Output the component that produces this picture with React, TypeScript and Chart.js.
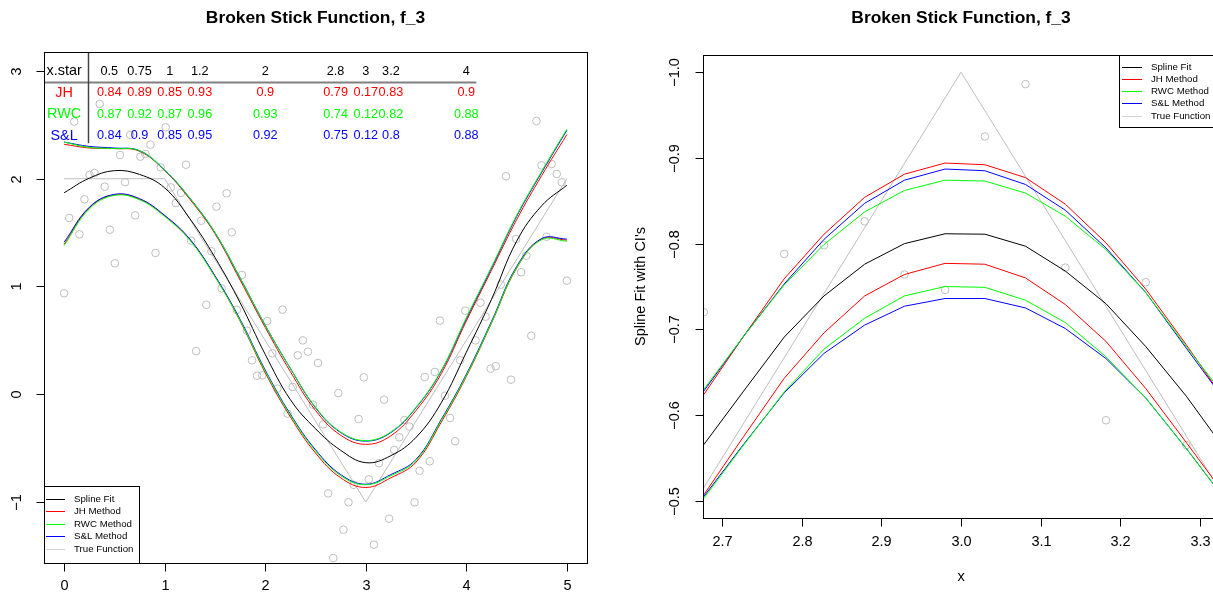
import React, { useEffect, useRef } from "react";
import { Chart, registerables } from "chart.js";

Chart.register(...registerables);

const FONT = '"Liberation Sans", Arial, Helvetica, sans-serif';
const GRAY = "#BEBEBE";
const RED = "#FF0000";
const GREEN = "#00FF00";
const BLUE = "#0000FF";
const BLACK = "#000000";

// ---------------- Left panel data ----------------
const obsX = [
  0, 0.051, 0.101, 0.152, 0.202, 0.253, 0.303, 0.354, 0.404, 0.455,
  0.505, 0.556, 0.606, 0.657, 0.707, 0.758, 0.808, 0.859, 0.909, 0.96,
  1.01, 1.061, 1.111, 1.162, 1.212, 1.263, 1.313, 1.364, 1.414, 1.465,
  1.515, 1.566, 1.616, 1.667, 1.717, 1.768, 1.818, 1.869, 1.919, 1.97,
  2.02, 2.071, 2.121, 2.172, 2.222, 2.273, 2.323, 2.374, 2.424, 2.475,
  2.525, 2.576, 2.626, 2.677, 2.727, 2.778, 2.828, 2.879, 2.929, 2.98,
  3.03, 3.081, 3.131, 3.182, 3.232, 3.283, 3.333, 3.384, 3.434, 3.485,
  3.535, 3.586, 3.636, 3.687, 3.737, 3.788, 3.838, 3.889, 3.939, 3.99,
  4.091, 4.141, 4.192, 4.242, 4.293, 4.343, 4.394, 4.444, 4.495, 4.545,
  4.596, 4.646, 4.697, 4.747, 4.798, 4.848, 4.899, 4.949, 5.0,
];
const obsY = [
  0.937, 1.636, 2.53, 1.484, 1.809, 2.035, 2.053, 2.694, 1.926, 1.527,
  1.215, 2.22, 1.967, 2.406, 1.66, 2.205, 2.23, 2.316, 1.311, 2.106,
  2.477, 1.92, 1.775, 1.868, 2.13, 1.425, 0.4, 1.61, 0.83, 1.327,
  1.741, 0.983, 1.865, 1.503, 0.782, 1.107, 0.59, 0.315, 0.172, 0.175,
  0.68, 0.38, 0.052, 0.785, -0.18, 0.067, 0.361, 0.5, 0.395, -0.097,
  0.29, -0.28, -0.92, -1.52, 0.01, -1.257, -1.003, -0.84, -0.23, 0.157,
  -0.79, -1.396, -0.64, -0.05, -1.155, -0.517, -0.4, -0.24, -0.3, -1.003,
  -0.71, 0.16, -0.622, 0.207, 0.683, -0.013, -0.22, -0.436, 0.315, 0.775,
  0.5, 0.85, 0.72, 0.237, 0.26, 1.017, 2.023, 0.135, 1.441, 1.132,
  1.286, 0.543, 2.536, 2.125, 1.462, 2.137, 2.044, 1.967, 1.054,
];

const fitX = [0, 0.25, 0.5, 0.75, 1, 1.25, 1.5, 1.75, 2, 2.25, 2.5, 2.75, 3, 3.25, 3.5, 3.75, 4, 4.25, 4.5, 4.75, 5];
const splineFit = [1.87, 2.005, 2.075, 2.04, 1.915, 1.63, 1.27, 0.85, 0.37, -0.05, -0.32, -0.52, -0.635, -0.57, -0.4, -0.08, 0.39, 0.88, 1.42, 1.75, 1.94];
const jhUpper = [2.32, 2.285, 2.28, 2.255, 2.075, 1.81, 1.49, 1.06, 0.62, 0.21, -0.15, -0.38, -0.465, -0.385, -0.15, 0.19, 0.68, 1.15, 1.62, 2.03, 2.41];
const jhLower = [1.39, 1.73, 1.85, 1.81, 1.655, 1.435, 1.095, 0.68, 0.2, -0.21, -0.545, -0.775, -0.865, -0.775, -0.63, -0.26, 0.165, 0.66, 1.17, 1.44, 1.43];
const rwcUpper = [2.34, 2.29, 2.28, 2.26, 2.08, 1.82, 1.5, 1.08, 0.64, 0.24, -0.12, -0.35, -0.43, -0.35, -0.12, 0.22, 0.71, 1.18, 1.66, 2.07, 2.46];
const rwcLower = [1.38, 1.72, 1.845, 1.805, 1.65, 1.43, 1.09, 0.685, 0.215, -0.195, -0.525, -0.755, -0.84, -0.755, -0.615, -0.245, 0.175, 0.665, 1.175, 1.435, 1.42];
const slUpper = [2.34, 2.3, 2.285, 2.26, 2.08, 1.82, 1.5, 1.08, 0.64, 0.24, -0.125, -0.355, -0.435, -0.355, -0.125, 0.215, 0.7, 1.17, 1.65, 2.06, 2.45];
const slLower = [1.41, 1.735, 1.855, 1.815, 1.66, 1.44, 1.1, 0.695, 0.225, -0.185, -0.515, -0.745, -0.835, -0.745, -0.605, -0.235, 0.185, 0.675, 1.185, 1.445, 1.44];

const trueX = [0, 1, 3, 5];
const trueY = [2, 2, -1, 2];

const leftXTicks = [0, 1, 2, 3, 4, 5];
const leftYTicks = [-1, 0, 1, 2, 3];

// coverage table
const xStarLabels = ["0.5", "0.75", "1", "1.2", "2", "2.8", "3", "3.2", "4"];
const tableColX = [0.45, 0.75, 1.05, 1.35, 2.0, 2.7, 3.0, 3.25, 4.0];
const jhCoverage = ["0.84", "0.89", "0.85", "0.93", "0.9", "0.79", "0.17", "0.83", "0.9"];
const rwcCoverage = ["0.87", "0.92", "0.87", "0.96", "0.93", "0.74", "0.12", "0.82", "0.88"];
const slCoverage = ["0.84", "0.9", "0.85", "0.95", "0.92", "0.75", "0.12", "0.8", "0.88"];
const tableRowY = [2.997, 2.796, 2.6, 2.4];

const legendLabels = ["Spline Fit", "JH Method", "RWC Method", "S&L Method", "True Function"];
const legendColors = [BLACK, RED, GREEN, BLUE, "#D3D3D3"];

// ---------------- Right panel data ----------------
const rightX = [2.677, 2.727, 2.778, 2.828, 2.879, 2.929, 2.98, 3.03, 3.081, 3.131, 3.182, 3.232, 3.283, 3.333];
const rSpline = [-0.5655, -0.628, -0.691, -0.739, -0.776, -0.8, -0.8115, -0.811, -0.797, -0.768, -0.73, -0.68, -0.622, -0.558];
const rJhTop = [-0.624, -0.692, -0.759, -0.811, -0.854, -0.881, -0.894, -0.892, -0.877, -0.846, -0.801, -0.747, -0.682, -0.615];
const rSlTop = [-0.628, -0.692, -0.753, -0.805, -0.847, -0.874, -0.887, -0.885, -0.869, -0.839, -0.795, -0.743, -0.678, -0.615];
const rRwcTop = [-0.63, -0.692, -0.752, -0.799, -0.837, -0.862, -0.874, -0.873, -0.859, -0.832, -0.793, -0.743, -0.68, -0.62];
const rJhBot = [-0.507, -0.575, -0.643, -0.696, -0.739, -0.764, -0.777, -0.776, -0.76, -0.729, -0.686, -0.631, -0.568, -0.505];
const rRwcBot = [-0.503, -0.565, -0.627, -0.677, -0.713, -0.739, -0.75, -0.749, -0.734, -0.708, -0.668, -0.62, -0.561, -0.5];
const rSlBot = [-0.505, -0.566, -0.626, -0.672, -0.705, -0.727, -0.736, -0.736, -0.725, -0.701, -0.666, -0.62, -0.561, -0.5];

const rObsX = [2.677, 2.778, 2.828, 2.879, 2.929, 2.98, 3.03, 3.081, 3.131, 3.182, 3.232, 3.283];
const rObsY = [-0.72, -0.788, -0.798, -0.826, -0.764, -0.746, -0.925, -0.986, -0.772, -0.594, -0.755, -0.565];

const rightXTicks = [2.7, 2.8, 2.9, 3.0, 3.1, 3.2, 3.3];
const rightYTicks = [-1.0, -0.9, -0.8, -0.7, -0.6, -0.5];

const TITLE = "Broken Stick Function, f_3";

// ---------------- helpers ----------------
const pts = (xs: number[], ys: number[]) => xs.map((v, i) => ({ x: v, y: ys[i] }));

const lineDs = (xs: number[], ys: number[], color: string, tension: number) => ({
  data: pts(xs, ys),
  showLine: true,
  borderColor: color,
  borderWidth: 1,
  pointRadius: 0,
  pointHoverRadius: 0,
  tension,
  fill: false,
});

const pointDs = (xs: number[], ys: number[]) => ({
  data: pts(xs, ys),
  showLine: false,
  pointRadius: 3.8,
  pointHoverRadius: 3.8,
  pointBorderColor: GRAY,
  pointBackgroundColor: "rgba(0,0,0,0)",
  pointBorderWidth: 1,
});

const fmtMinus = (s: string) => s.replace("-", "\u2212");

function drawBox(ctx: CanvasRenderingContext2D, l: number, t: number, r: number, b: number) {
  ctx.strokeStyle = BLACK;
  ctx.lineWidth = 1;
  ctx.strokeRect(Math.round(l) + 0.5, Math.round(t) + 0.5, Math.round(r) - Math.round(l), Math.round(b) - Math.round(t));
}

function drawLegend(
  ctx: CanvasRenderingContext2D,
  left: number,
  top: number,
  width: number,
  height: number,
  firstY: number,
  step: number,
  lineFrom: number,
  lineTo: number,
  textX: number
) {
  ctx.fillStyle = "#FFFFFF";
  ctx.fillRect(left, top, width, height);
  drawBox(ctx, left, top, left + width, top + height);
  ctx.font = `9.7px ${FONT}`;
  ctx.textAlign = "left";
  ctx.textBaseline = "middle";
  legendLabels.forEach((lab, i) => {
    const yy = Math.round(top + firstY + i * step) + 0.5;
    ctx.strokeStyle = legendColors[i];
    ctx.lineWidth = 1;
    ctx.beginPath();
    ctx.moveTo(left + lineFrom, yy);
    ctx.lineTo(left + lineTo, yy);
    ctx.stroke();
    ctx.fillStyle = BLACK;
    ctx.fillText(lab, left + textX, yy);
  });
}

const leftDecor = {
  id: "leftDecor",
  afterDatasetsDraw(chart: any) {
    const { ctx, chartArea: a, scales } = chart;
    const x = scales.x;
    const y = scales.y;
    ctx.save();
    // coverage table
    const hy = Math.round(y.getPixelForValue(2.9)) + 0.5;
    ctx.strokeStyle = "#808080";
    ctx.lineWidth = 2;
    ctx.beginPath();
    ctx.moveTo(a.left, hy);
    ctx.lineTo(x.getPixelForValue(4.1), hy);
    ctx.stroke();
    const vx = Math.round(x.getPixelForValue(0.24)) + 0.5;
    ctx.strokeStyle = "#444444";
    ctx.lineWidth = 1.5;
    ctx.beginPath();
    ctx.moveTo(vx, a.top);
    ctx.lineTo(vx, y.getPixelForValue(2.33));
    ctx.stroke();

    ctx.textAlign = "center";
    ctx.textBaseline = "middle";
    const rowNames = ["x.star", "JH", "RWC", "S&L"];
    const rowColors = [BLACK, RED, GREEN, BLUE];
    const rowVals = [xStarLabels, jhCoverage, rwcCoverage, slCoverage];
    rowNames.forEach((nm, r) => {
      const py = y.getPixelForValue(tableRowY[r]);
      ctx.fillStyle = rowColors[r];
      ctx.font = `14.4px ${FONT}`;
      ctx.fillText(nm, x.getPixelForValue(0), py);
      ctx.font = `12.7px ${FONT}`;
      rowVals[r].forEach((v, c) => {
        ctx.fillText(v, x.getPixelForValue(tableColX[c]), py);
      });
    });

    // legend (bottom-left)
    drawLegend(ctx, Math.round(a.left), Math.round(a.bottom) - 77, 95, 77, 12.5, 12.6, 2, 21, 30);

    // box
    drawBox(ctx, a.left, a.top, a.right, a.bottom);

    // axes
    ctx.strokeStyle = BLACK;
    ctx.lineWidth = 1;
    ctx.fillStyle = BLACK;
    ctx.font = `14.5px ${FONT}`;
    const b = Math.round(a.bottom) + 0.5;
    ctx.textAlign = "center";
    ctx.textBaseline = "middle";
    leftXTicks.forEach((t) => {
      const px = Math.round(x.getPixelForValue(t)) + 0.5;
      ctx.beginPath();
      ctx.moveTo(px, b);
      ctx.lineTo(px, b + 8);
      ctx.stroke();
      ctx.fillText(fmtMinus(String(t)), px, b + 22);
    });
    const l = Math.round(a.left) + 0.5;
    leftYTicks.forEach((t) => {
      const py = Math.round(y.getPixelForValue(t)) + 0.5;
      ctx.beginPath();
      ctx.moveTo(l - 8, py);
      ctx.lineTo(l, py);
      ctx.stroke();
      ctx.save();
      ctx.translate(l - 28, py);
      ctx.rotate(-Math.PI / 2);
      ctx.fillText(fmtMinus(String(t)), 0, 0);
      ctx.restore();
    });

    // title
    ctx.font = `bold 17.4px ${FONT}`;
    ctx.fillText(TITLE, (a.left + a.right) / 2, 18);
    ctx.restore();
  },
};

const rightDecor = {
  id: "rightDecor",
  afterDatasetsDraw(chart: any) {
    const { ctx, chartArea: a, scales } = chart;
    const x = scales.x;
    const y = scales.y;
    ctx.save();
    // legend (top-right)
    const legLeft = Math.round(a.left) + 416;
    drawLegend(ctx, legLeft, Math.round(a.top), Math.round(a.right) - legLeft, 72, 11.5, 12.3, 3, 23, 32);

    drawBox(ctx, a.left, a.top, a.right, a.bottom);

    ctx.strokeStyle = BLACK;
    ctx.lineWidth = 1;
    ctx.fillStyle = BLACK;
    ctx.font = `14.5px ${FONT}`;
    ctx.textAlign = "center";
    ctx.textBaseline = "middle";
    const b = Math.round(a.bottom) + 0.5;
    rightXTicks.forEach((t) => {
      const px = Math.round(x.getPixelForValue(t)) + 0.5;
      ctx.beginPath();
      ctx.moveTo(px, b);
      ctx.lineTo(px, b + 8);
      ctx.stroke();
      ctx.fillText(t.toFixed(1), px, b + 23);
    });
    const l = Math.round(a.left) + 0.5;
    rightYTicks.forEach((t) => {
      const py = Math.round(y.getPixelForValue(t)) + 0.5;
      ctx.beginPath();
      ctx.moveTo(l - 8, py);
      ctx.lineTo(l, py);
      ctx.stroke();
      ctx.save();
      ctx.translate(l - 29, py);
      ctx.rotate(-Math.PI / 2);
      ctx.fillText(fmtMinus(t.toFixed(1)), 0, 0);
      ctx.restore();
    });
    // axis titles
    ctx.fillText("x", (a.left + a.right) / 2, b + 58);
    ctx.save();
    ctx.translate(l - 63, (a.top + a.bottom) / 2);
    ctx.rotate(-Math.PI / 2);
    ctx.fillText("Spline Fit with CI's", 0, 0);
    ctx.restore();

    ctx.font = `bold 17.4px ${FONT}`;
    ctx.fillText(TITLE, (a.left + a.right) / 2, 18);
    ctx.restore();
  },
};

const baseOptions = (xmin: number, xmax: number, ymin: number, ymax: number, reverse: boolean, padding: any) => ({
  responsive: false,
  animation: false as const,
  devicePixelRatio: 1,
  layout: { padding },
  events: [] as any[],
  plugins: {
    legend: { display: false },
    title: { display: false },
    tooltip: { enabled: false },
  },
  scales: {
    x: { type: "linear" as const, min: xmin, max: xmax, display: false },
    y: { type: "linear" as const, min: ymin, max: ymax, reverse, display: false },
  },
});

export default function App() {
  const leftRef = useRef<HTMLCanvasElement>(null);
  const rightRef = useRef<HTMLCanvasElement>(null);

  useEffect(() => {
    if (!leftRef.current || !rightRef.current) return;
    const left = new Chart(leftRef.current, {
      type: "scatter",
      data: {
        datasets: [
          lineDs(fitX, rwcUpper, GREEN, 0.4),
          lineDs(fitX, rwcLower, GREEN, 0.4),
          lineDs(fitX, slUpper, BLUE, 0.4),
          lineDs(fitX, slLower, BLUE, 0.4),
          lineDs(fitX, jhUpper, RED, 0.4),
          lineDs(fitX, jhLower, RED, 0.4),
          lineDs(fitX, splineFit, BLACK, 0.4),
          lineDs(trueX, trueY, GRAY, 0),
          pointDs(obsX, obsY),
        ] as any,
      },
      options: baseOptions(-0.2, 5.2, -1.566, 3.176, false, { left: 44, right: 19, top: 52, bottom: 34 }) as any,
      plugins: [leftDecor],
    });
    const right = new Chart(rightRef.current, {
      type: "scatter",
      data: {
        datasets: [
          lineDs(rightX, rRwcTop, GREEN, 0),
          lineDs(rightX, rRwcBot, GREEN, 0),
          lineDs(rightX, rSlTop, BLUE, 0),
          lineDs(rightX, rSlBot, BLUE, 0),
          lineDs(rightX, rJhTop, RED, 0),
          lineDs(rightX, rJhBot, RED, 0),
          lineDs(rightX, rSpline, BLACK, 0),
          lineDs(trueX, trueY, GRAY, 0),
          pointDs(rObsX, rObsY),
        ] as any,
      },
      options: baseOptions(2.676, 3.324, -1.02, -0.48, true, { left: 97, right: 27, top: 55, bottom: 79 }) as any,
      plugins: [rightDecor],
    });
    return () => {
      left.destroy();
      right.destroy();
    };
  }, []);

  return (
    <div
      style={{
        position: "absolute",
        left: 0,
        top: 0,
        width: 1213,
        height: 597,
        overflow: "hidden",
        background: "#FFFFFF",
      }}
    >
      <canvas ref={leftRef} width={606} height={597} style={{ position: "absolute", left: 0, top: 0 }} />
      <canvas ref={rightRef} width={640} height={597} style={{ position: "absolute", left: 606, top: 0 }} />
    </div>
  );
}
